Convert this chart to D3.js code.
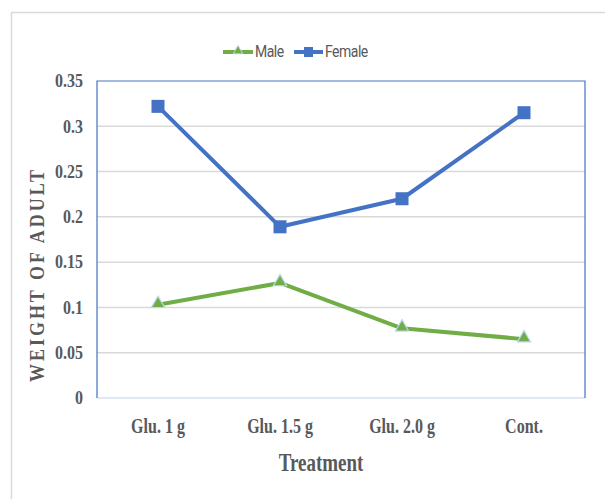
<!DOCTYPE html>
<html>
<head>
<meta charset="utf-8">
<script src="https://cdn.jsdelivr.net/npm/d3@7"></script>
<style>
  body { margin: 0; background: #fff; }
</style>
</head>
<body>
<div id="chart"></div>
<script>
var categories = ["Glu. 1 g", "Glu. 1.5 g", "Glu. 2.0 g", "Cont."];
var maleValues = [0.103, 0.127, 0.077, 0.065];
var femaleValues = [0.322, 0.189, 0.220, 0.315];
var yTicks = [0, 0.05, 0.1, 0.15, 0.2, 0.25, 0.3, 0.35];
var yTickLabels = ["0", "0.05", "0.1", "0.15", "0.2", "0.25", "0.3", "0.35"];

var width = 605, height = 499;
var margin = {top: 81, right: 20, bottom: 101, left: 97};
var plotW = width - margin.left - margin.right;
var plotH = height - margin.top - margin.bottom;
var serif = "Liberation Serif, 'Times New Roman', serif";

var svg = d3.select("#chart").append("svg")
    .attr("width", width)
    .attr("height", height);

// outer chart frame
svg.append("rect")
    .attr("x", 11.5).attr("y", 12.5)
    .attr("width", 620).attr("height", 520)
    .attr("fill", "none")
    .attr("stroke", "#d9d9d9")
    .attr("stroke-width", 1.5);

var g = svg.append("g")
    .attr("transform", "translate(" + margin.left + "," + margin.top + ")");

var x = d3.scaleBand()
    .domain(categories)
    .range([0, plotW]);

var y = d3.scaleLinear()
    .domain([0, 0.35])
    .range([plotH, 0]);

// gridlines
g.selectAll(".grid")
    .data(yTicks.filter(function(d){ return d > 0 && d < 0.35; }))
    .enter()
    .append("line")
    .attr("class", "grid")
    .attr("x1", 0).attr("x2", plotW)
    .attr("y1", function(d){ return y(d); })
    .attr("y2", function(d){ return y(d); })
    .attr("stroke", "#d9d9d9")
    .attr("stroke-width", 1.5);

// plot area border
g.append("line").attr("x1", 0).attr("x2", plotW).attr("y1", plotH).attr("y2", plotH)
    .attr("stroke", "#d6e0f2").attr("stroke-width", 1.5);
g.append("path")
    .attr("d", "M0," + plotH + "V0H" + plotW + "V" + plotH)
    .attr("fill", "none")
    .attr("stroke", "#4472c4")
    .attr("stroke-width", 1.2);

// y tick labels (stretched a bit vertically like the original)
g.selectAll(".ytick")
    .data(yTicks)
    .enter()
    .append("text")
    .attr("class", "ytick")
    .attr("transform", function(d){ return "translate(-14," + (y(d) + 6.3) + ") scale(1,1.15)"; })
    .attr("text-anchor", "end")
    .attr("font-family", serif)
    .attr("font-weight", "bold")
    .attr("font-size", 16)
    .attr("fill", "#595959")
    .text(function(d, i){ return yTickLabels[i]; });

// x tick labels
g.selectAll(".xtick")
    .data(categories)
    .enter()
    .append("text")
    .attr("class", "xtick")
    .attr("transform", function(d){
        return "translate(" + (x(d) + x.bandwidth() / 2) + "," + (plotH + 35) + ") scale(1,1.3)";
    })
    .attr("text-anchor", "middle")
    .attr("font-family", serif)
    .attr("font-weight", "bold")
    .attr("font-size", 16)
    .attr("fill", "#595959")
    .text(function(d){ return d; });

// axis titles
svg.append("text")
    .attr("transform", "translate(321,471) scale(1,1.35)")
    .attr("text-anchor", "middle")
    .attr("font-family", serif)
    .attr("font-weight", "bold")
    .attr("font-size", 19)
    .attr("fill", "#595959")
    .text("Treatment");

svg.append("text")
    .attr("transform", "translate(44,276) rotate(-90) scale(1,1.15)")
    .attr("text-anchor", "middle")
    .attr("font-family", serif)
    .attr("font-weight", "bold")
    .attr("font-size", 18)
    .attr("textLength", 212)
    .attr("lengthAdjust", "spacing")
    .attr("fill", "#595959")
    .text("WEIGHT OF ADULT");

var line = d3.line()
    .x(function(d, i){ return x(categories[i]) + x.bandwidth() / 2; })
    .y(function(d){ return y(d); });

// female series
g.append("path")
    .datum(femaleValues)
    .attr("d", line)
    .attr("fill", "none")
    .attr("stroke", "#4472c4")
    .attr("stroke-width", 4)
    .attr("stroke-linejoin", "round");

// male series
g.append("path")
    .datum(maleValues)
    .attr("d", line)
    .attr("fill", "none")
    .attr("stroke", "#70ad47")
    .attr("stroke-width", 4)
    .attr("stroke-linejoin", "round");

var sq = 13;
g.selectAll(".fmark")
    .data(femaleValues)
    .enter()
    .append("rect")
    .attr("class", "fmark")
    .attr("x", function(d, i){ return x(categories[i]) + x.bandwidth() / 2 - sq / 2; })
    .attr("y", function(d){ return y(d) - sq / 2; })
    .attr("width", sq).attr("height", sq)
    .attr("fill", "#4472c4");

var tri = d3.symbol().type(d3.symbolTriangle).size(75);
g.selectAll(".mmark")
    .data(maleValues)
    .enter()
    .append("path")
    .attr("class", "mmark")
    .attr("d", tri)
    .attr("transform", function(d, i){
        return "translate(" + (x(categories[i]) + x.bandwidth() / 2) + "," + (y(d) - 1) + ")";
    })
    .attr("fill", "#70ad47")
    .attr("stroke", "#bdd7ee")
    .attr("stroke-width", 1.2);

// legend
var legend = svg.append("g").attr("transform", "translate(0,52)");
legend.append("line").attr("x1", 223).attr("x2", 253).attr("y1", 0).attr("y2", 0)
    .attr("stroke", "#70ad47").attr("stroke-width", 4);
legend.append("path").attr("d", d3.symbol().type(d3.symbolTriangle).size(40))
    .attr("transform", "translate(238,-1)")
    .attr("fill", "#70ad47").attr("stroke", "#bdd7ee").attr("stroke-width", 1);
legend.append("text").attr("transform", "translate(255,5) scale(1,1.15)")
    .attr("font-family", "Roboto, sans-serif").attr("font-size", 14)
    .attr("fill", "#595959").attr("letter-spacing", -0.5).text("Male");
legend.append("line").attr("x1", 294).attr("x2", 323).attr("y1", 0).attr("y2", 0)
    .attr("stroke", "#4472c4").attr("stroke-width", 4);
legend.append("rect").attr("x", 304).attr("y", -5).attr("width", 9).attr("height", 10)
    .attr("fill", "#4472c4");
legend.append("text").attr("transform", "translate(325,5) scale(1,1.15)")
    .attr("font-family", "Roboto, sans-serif").attr("font-size", 14)
    .attr("fill", "#595959").attr("letter-spacing", -0.5).text("Female");
</script>
</body>
</html>
